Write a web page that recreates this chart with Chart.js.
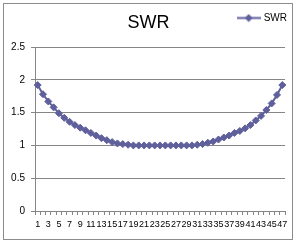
<!DOCTYPE html>
<html>
<head>
<meta charset="utf-8">
<script src="https://cdn.jsdelivr.net/npm/chart.js@4"></script>
<style>
  html, body { margin: 0; padding: 0; background: #fff; }
  #wrap { width: 297px; height: 242px; }
</style>
</head>
<body>
<div id="wrap"><canvas id="swr-chart" width="297" height="242"></canvas></div>
<script>
const categories = ['1','2','3','4','5','6','7','8','9','10','11','12','13','14','15','16',
    '17','18','19','20','21','22','23','24','25','26','27','28','29','30','31','32',
    '33','34','35','36','37','38','39','40','41','42','43','44','45','46','47'];
const swrValues = [1.92, 1.78, 1.67, 1.58, 1.49, 1.42, 1.36, 1.31, 1.27, 1.23,
    1.19, 1.15, 1.11, 1.08, 1.05, 1.03, 1.02, 1.01,
    1.00, 1.00, 1.00, 1.00, 1.00, 1.00, 1.00, 1.00, 1.00, 1.00, 1.00, 1.00,
    1.01, 1.02, 1.04, 1.06, 1.09, 1.12, 1.15, 1.19, 1.22, 1.26,
    1.31, 1.38, 1.45, 1.54, 1.64, 1.77, 1.92];
const yTicks = [0, 0.5, 1, 1.5, 2, 2.5];

const seriesColor = '#5f5f9c';
const axisGray = '#868686';

// legend symbol: short line with a diamond in the middle
const getLegendSymbol = () => {
    const c = document.createElement('canvas');
    c.width = 24;
    c.height = 9;
    const ctx = c.getContext('2d');
    ctx.strokeStyle = seriesColor;
    ctx.lineWidth = 2;
    ctx.beginPath();
    ctx.moveTo(0, 4.5);
    ctx.lineTo(24, 4.5);
    ctx.stroke();
    ctx.fillStyle = seriesColor;
    ctx.beginPath();
    ctx.moveTo(12, 0.5);
    ctx.lineTo(16, 4.5);
    ctx.lineTo(12, 8.5);
    ctx.lineTo(8, 4.5);
    ctx.closePath();
    ctx.fill();
    return c;
}

const frame = {
    id: 'frame',
    beforeDraw: (chart) => {
        const ctx = chart.ctx;
        ctx.save();
        ctx.fillStyle = '#fff';
        ctx.fillRect(0, 0, chart.width, chart.height);
        ctx.strokeStyle = '#8c8c8c';
        ctx.lineWidth = 1;
        ctx.strokeRect(3.5, 3.5, 289, 236);
        ctx.restore();
    }
}

const ctx = document.getElementById('swr-chart').getContext('2d');
const chart = new Chart(ctx, {
    type: 'line',
    data: {
        labels: categories,
        datasets: [{
            label: 'SWR',
            data: swrValues,
            borderColor: seriesColor,
            backgroundColor: seriesColor,
            borderWidth: 2,
            pointStyle: 'rectRot',
            pointRadius: 3.5,
            pointBorderWidth: 1,
            pointBackgroundColor: seriesColor,
            pointBorderColor: seriesColor,
            tension: 0
        }]
    },
    options: {
        responsive: false,
        animation: false,
        layout: {
            padding: { top: 3, left: 0, right: 0, bottom: 0 }
        },
        plugins: {
            legend: {
                display: true,
                position: 'top',
                align: 'end',
                weight: 3000,
                labels: {
                    usePointStyle: true,
                    pointStyle: getLegendSymbol(),
                    pointStyleWidth: 20,
                    padding: 10,
                    color: '#000',
                    font: { family: 'Liberation Sans, Arial, sans-serif', size: 10 }
                }
            },
            title: {
                display: true,
                text: 'SWR',
                color: '#000',
                font: { family: 'Liberation Sans, Arial, sans-serif', size: 18, weight: 'normal' },
                padding: { top: -20.5, bottom: 12.9 }
            },
            tooltip: { enabled: false }
        },
        scales: {
            x: {
                offset: true,
                grid: {
                    display: true,
                    offset: true,
                    drawOnChartArea: false,
                    drawTicks: true,
                    tickLength: 4,
                    color: axisGray
                },
                border: { display: true, color: axisGray, width: 1 },
                ticks: {
                    autoSkip: false,
                    maxRotation: 0,
                    minRotation: 0,
                    padding: 4,
                    color: '#000',
                    font: { family: 'Liberation Sans, Arial, sans-serif', size: 9 },
                    callback: (value, index) => index % 2 === 0 ? categories[index] : ''
                },
                afterFit: (scale) => {
                    scale.height = 31;
                    scale.paddingRight = 12;
                    scale.paddingLeft = 0;
                }
            },
            y: {
                min: yTicks[0],
                max: yTicks[yTicks.length - 1],
                afterBuildTicks: (scale) => {
                    scale.ticks = yTicks.map(v => ({ value: v }));
                },
                grid: {
                    color: axisGray,
                    tickLength: 4,
                    lineWidth: 1
                },
                border: { display: true, color: axisGray, width: 1 },
                ticks: {
                    padding: 6,
                    color: '#000',
                    font: { family: 'Liberation Sans, Arial, sans-serif', size: 10 },
                    callback: (value) => String(value)
                },
                afterFit: (scale) => {
                    scale.width = 35;
                }
            }
        }
    },
    plugins: [frame]
});
</script>
</body>
</html>
